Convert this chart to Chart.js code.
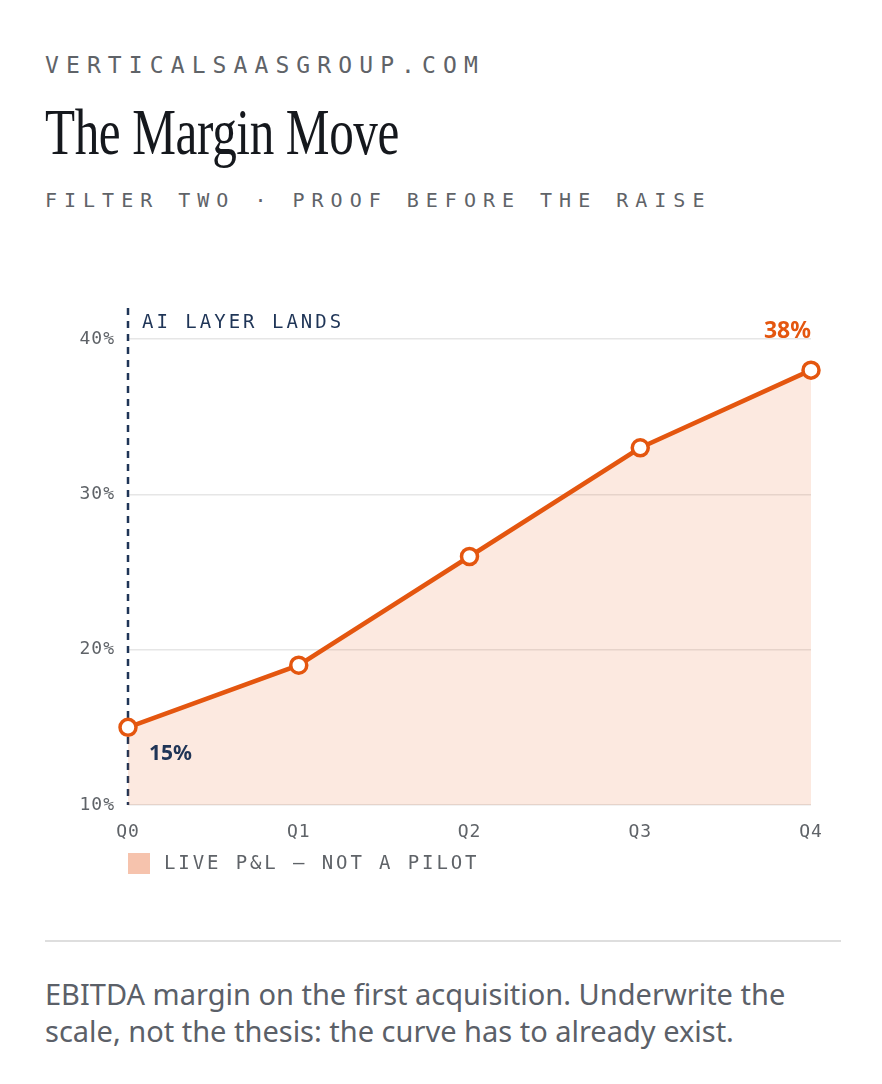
<!DOCTYPE html>
<html>
<head>
<meta charset="utf-8">
<script src="https://cdn.jsdelivr.net/npm/chart.js@4.4.1/dist/chart.umd.min.js"></script>
<style>
  html,body{margin:0;padding:0;background:#fff;}
  body{width:882px;height:1084px;position:relative;overflow:hidden;font-family:"Noto Sans",sans-serif;}
  .kicker{position:absolute;left:45px;top:50px;font:23px/30px "DejaVu Sans Mono",monospace;letter-spacing:7.1px;color:#5f6368;white-space:nowrap;}
  .title{position:absolute;left:45px;top:92px;font:66px/80px "Liberation Serif",serif;color:#15181d;white-space:nowrap;transform:scaleX(0.745);transform-origin:left top;letter-spacing:-0.5px;}
  .sub{position:absolute;left:45px;top:186px;font:20px/28px "DejaVu Sans Mono",monospace;letter-spacing:7px;color:#5f6368;white-space:nowrap;}
  #wrap{position:absolute;left:0;top:280px;width:882px;height:600px;}
  .rule{position:absolute;left:45px;top:940px;width:796px;height:2px;background:#dedede;}
  .caption{position:absolute;left:45px;top:975px;width:770px;font:29px/37px "Noto Sans",sans-serif;color:#5b6068;}
</style>
</head>
<body>
<div class="kicker">VERTICALSAASGROUP.COM</div>
<div class="title">The Margin Move</div>
<div class="sub">FILTER TWO · PROOF BEFORE THE RAISE</div>
<div id="wrap"><canvas id="margin"></canvas></div>
<div class="rule"></div>
<div class="caption">EBITDA margin on the first acquisition. Underwrite the scale, not the thesis: the curve has to already exist.</div>
<script>
// data
const quarters = ['Q0','Q1','Q2','Q3','Q4'];
const ebitdaMargin = [15, 19, 26, 33, 38];
const yTicks = [10, 20, 30, 40];
const seriesLabel = 'LIVE P&L — NOT A PILOT';
const markerLabel = 'AI LAYER LANDS';

const ORANGE = '#e4560f';
const NAVY = '#1f3557';
const MONO = '"DejaVu Sans Mono", monospace';

// dashed marker, callouts and legend swatch
const annotations = {
  id:'annotations',
  beforeDraw(chart){ chart.ctx.letterSpacing = '1px'; },
  beforeDatasetsDraw(chart){
    const {ctx, chartArea, scales} = chart;
    const x = scales.x.getPixelForValue(0);
    ctx.save();
    ctx.strokeStyle = NAVY; ctx.lineWidth = 2.5; ctx.setLineDash([7,6]);
    ctx.beginPath(); ctx.moveTo(x, chartArea.top); ctx.lineTo(x, chartArea.bottom); ctx.stroke();
    ctx.restore();
  },
  afterDraw(chart){
    const {ctx, chartArea, scales} = chart;
    const x0 = scales.x.getPixelForValue(0);
    const last = ebitdaMargin.length - 1;
    ctx.save();
    ctx.letterSpacing = '3px';
    ctx.font = '19px ' + MONO; ctx.fillStyle = NAVY; ctx.textBaseline = 'middle'; ctx.textAlign = 'left';
    ctx.fillText(markerLabel, x0 + 14, chartArea.top + 15);
    ctx.letterSpacing = '0px';
    ctx.font = 'bold 21px "Noto Sans", sans-serif';
    ctx.fillStyle = NAVY;
    ctx.fillText(ebitdaMargin[0] + '%', x0 + 21, scales.y.getPixelForValue(ebitdaMargin[0]) + 27);
    ctx.font = 'bold 23px "Noto Sans", sans-serif';
    ctx.fillStyle = ORANGE; ctx.textAlign = 'right';
    ctx.fillText(ebitdaMargin[last] + '%', scales.x.getPixelForValue(last), scales.y.getPixelForValue(ebitdaMargin[last]) - 39);
    // legend
    const ly = chartArea.bottom + 58;
    ctx.fillStyle = '#f6c3ad';
    ctx.fillRect(chartArea.left, ly - 10, 22, 21);
    ctx.letterSpacing = '2.9px';
    ctx.font = '19px ' + MONO; ctx.fillStyle = '#5f6368'; ctx.textAlign = 'left';
    ctx.fillText(seriesLabel, chartArea.left + 36, ly + 1);
    ctx.restore();
  }
};

new Chart(document.getElementById('margin'), {
  type:'line',
  data:{
    labels:quarters,
    datasets:[{
      label:seriesLabel,
      data:ebitdaMargin,
      borderColor:ORANGE,
      borderWidth:4.5,
      backgroundColor:'rgba(232,84,18,0.13)',
      fill:'start',
      tension:0,
      clip:false,
      pointRadius:8,
      pointBorderWidth:3.5,
      pointBackgroundColor:'#fff',
      pointBorderColor:ORANGE,
      pointHoverRadius:8
    }]
  },
  options:{
    responsive:true,
    maintainAspectRatio:false,
    animation:false,
    layout:{padding:{left:0, right:71, top:28, bottom:30}},
    plugins:{legend:{display:false}, tooltip:{enabled:false}},
    scales:{
      x:{
        offset:false,
        grid:{display:false, drawTicks:false},
        border:{display:false},
        ticks:{color:'#5f6368', font:{family:MONO, size:18}, padding:17, maxRotation:0},
        afterFit(s){ s.height = 45; }
      },
      y:{
        min:10, max:42,
        grid:{color:'#e6e6e6', lineWidth:1.5, drawTicks:false},
        border:{display:false},
        afterBuildTicks(s){ s.ticks = yTicks.map(v => ({value:v})); },
        ticks:{color:'#5f6368', font:{family:MONO, size:18}, padding:13, callback:v => v + '%'},
        afterFit(s){ s.width = 128; }
      }
    }
  },
  plugins:[annotations]
});
</script>
</body>
</html>
